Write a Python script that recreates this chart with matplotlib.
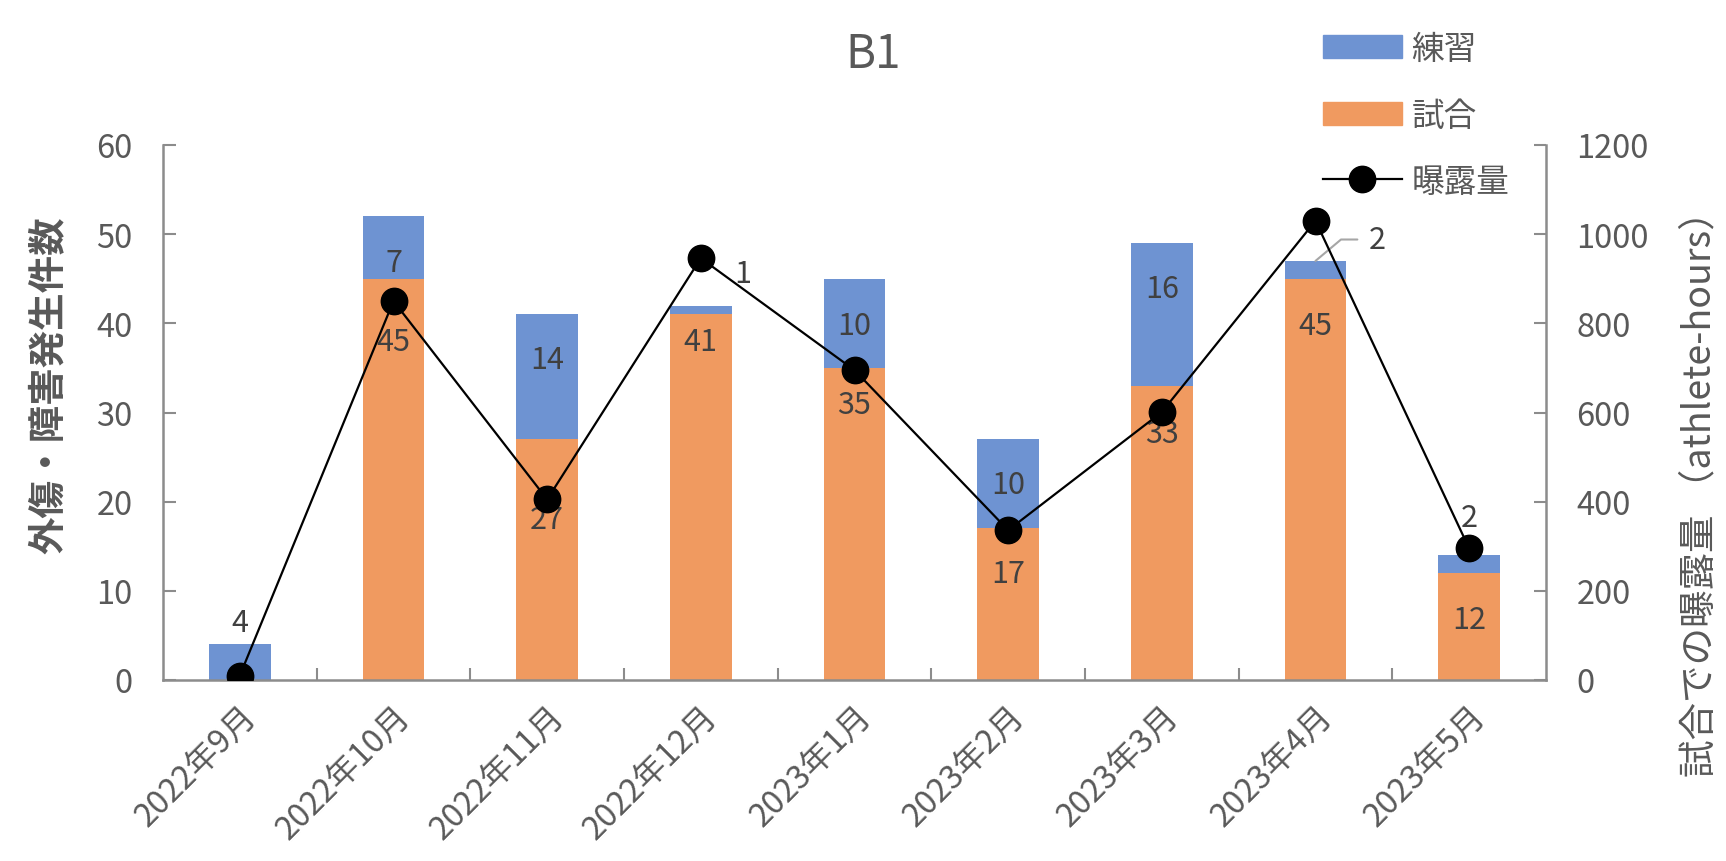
import matplotlib
matplotlib.use('Agg')
import matplotlib.pyplot as plt
from matplotlib.lines import Line2D
from matplotlib.patches import Patch

plt.rcParams['font.family'] = ['Noto Sans CJK JP', 'DejaVu Sans']

months = ['2022年9月', '2022年10月', '2022年11月', '2022年12月', '2023年1月',
          '2023年2月', '2023年3月', '2023年4月', '2023年5月']
match = [0, 45, 27, 41, 35, 17, 33, 45, 12]        # 試合
practice = [4, 7, 14, 1, 10, 10, 16, 2, 2]         # 練習
exposure = [10, 850, 405, 946, 695, 336, 601, 1030, 295]  # 曝露量 (athlete-hours)

# label positions were dragged by hand in the original, so keep them here
match_label_y = [None, 38.0, 18.0, 38.0, 30.9, 11.9, 27.6, 39.8, 6.8]
practice_label_y = [6.4, 46.8, 35.9, 45.6, 39.8, 21.9, 43.9, 49.4, 18.2]
practice_label_dx = [0, 0, 0, 0.27, 0, 0, 0, 0.40, 0]

BLUE = '#6e93d2'
ORANGE = '#f09a60'
AXIS = '#8c8c8c'
TXT = '#595959'
LBL = '#404040'
FS = 22
TFS = 23.5

W, H = 1726, 862
fig = plt.figure(figsize=(W / 100, H / 100), dpi=100)
left, right, top, bottom = 163, 1546, 146, 681
ax = fig.add_axes([left / W, 1 - bottom / H, (right - left) / W, (bottom - top) / H])

x = list(range(len(months)))
ax.bar(x, match, width=0.4, color=ORANGE, zorder=2)
ax.bar(x, practice, width=0.4, bottom=match, color=BLUE, zorder=2)

for i in x:
    if match_label_y[i] is not None:
        ax.text(i, match_label_y[i], str(match[i]), ha='center', va='center',
                fontsize=FS, color=LBL, zorder=3)
    if i == 7:
        # this one has a leader line back to the bar
        ax.annotate(str(practice[i]), xy=(i, match[i] + practice[i]),
                    xytext=(i + practice_label_dx[i], practice_label_y[i]),
                    ha='center', va='center', fontsize=FS, color=LBL,
                    arrowprops=dict(arrowstyle='-', color='#a6a6a6', lw=1.5,
                                    shrinkA=6, shrinkB=0,
                                    connectionstyle='angle,angleA=0,angleB=40'))
    else:
        ax.text(i + practice_label_dx[i], practice_label_y[i], str(practice[i]),
                ha='center', va='center', fontsize=FS, color=LBL, zorder=3)

ax.set_xlim(-0.5, len(months) - 0.5)
ax.set_ylim(0, 60)
ax.set_yticks(range(0, 61, 10))
ax.set_xticks(x)
ax.set_xticklabels(months, rotation=45, ha='right', rotation_mode='anchor')
ax.set_xticks([i + 0.5 for i in x[:-1]], minor=True)
ax.tick_params(axis='x', which='major', length=0, pad=14, labelsize=TFS, labelcolor=TXT)
ax.tick_params(axis='x', which='minor', direction='in', length=9, width=1.5, color=AXIS)
ax.tick_params(axis='y', direction='in', length=9, width=1.5, color=AXIS,
               pad=22, labelsize=TFS, labelcolor=TXT)
for s in ['top', 'right']:
    ax.spines[s].set_visible(False)
for s in ['left', 'bottom']:
    ax.spines[s].set_color(AXIS)
    ax.spines[s].set_linewidth(1.8)

ax2 = ax.twinx()
ax2.plot(x, exposure, color='black', lw=1.6, marker='o', markersize=19, zorder=4)
ax2.set_ylim(0, 1200)
ax2.set_yticks(range(0, 1201, 200))
ax2.tick_params(axis='y', direction='in', length=9, width=1.5, color=AXIS,
                pad=22, labelsize=TFS, labelcolor=TXT)
for s in ['top', 'left', 'bottom']:
    ax2.spines[s].set_visible(False)
ax2.spines['right'].set_color(AXIS)
ax2.spines['right'].set_linewidth(1.8)

fig.text(873 / W, 1 - 55 / H, 'B1', ha='center', va='center', fontsize=33, color=TXT)
fig.text(48 / W, 1 - 385 / H, '外傷・障害発生件数', rotation=90, ha='center', va='center',
         fontsize=27, fontweight='bold', color=TXT)
fig.text(1700 / W, 1 - 485 / H, '試合での曝露量 （athlete-hours）', rotation=90,
         ha='center', va='center', fontsize=27, color=TXT)

handles = [Patch(color=BLUE), Patch(color=ORANGE),
           Line2D([], [], color='black', lw=1.6, marker='o', markersize=19)]
fig.legend(handles, ['練習', '試合', '曝露量'], loc='upper left',
           bbox_to_anchor=(1307 / W, 1 - 18 / H), frameon=False, fontsize=TFS,
           labelcolor=TXT, handlelength=2.4, handletextpad=0.3, labelspacing=1.05,
           borderpad=0)

fig.savefig('out.png', dpi=100)
